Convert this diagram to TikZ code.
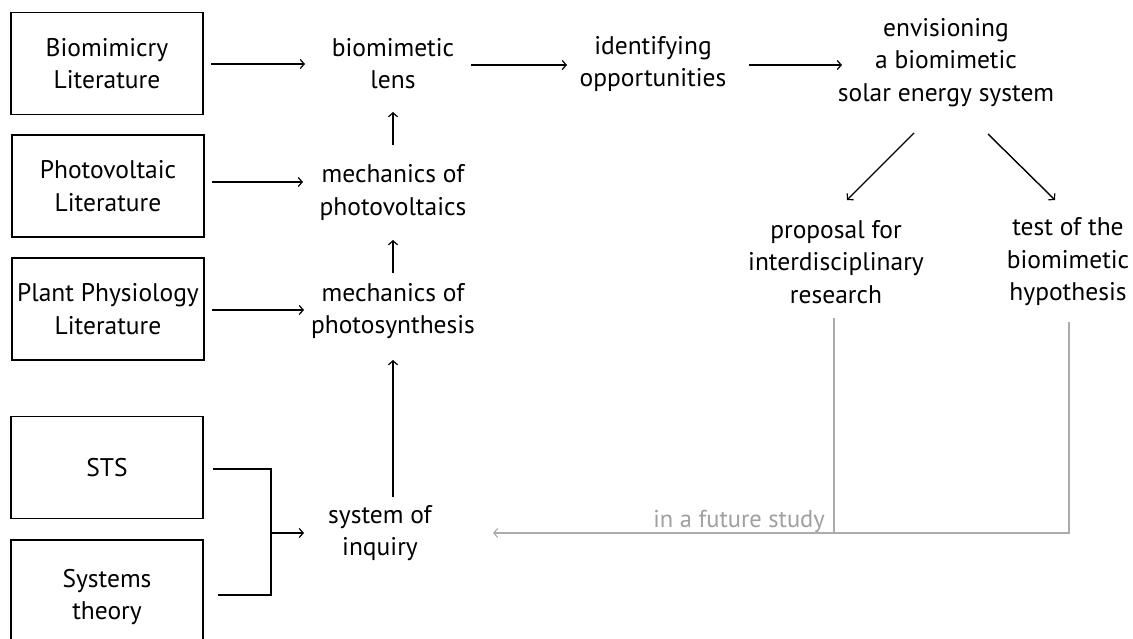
\documentclass[tikz,border=0pt]{standalone}
\usepackage{fontspec}
\setmainfont{PT Sans}
\usetikzlibrary{arrows.meta,calc}
\definecolor{futgray}{RGB}{172,172,172}
\definecolor{futtext}{RGB}{160,160,160}
\begin{document}
\begin{tikzpicture}[x=1pt,y=-1pt,
  every node/.style={font=\fontsize{25.5}{32.5}\selectfont, align=center, inner sep=0pt},
  src/.style={draw, line width=1.4pt, minimum width=192pt, minimum height=102pt},
  lab/.style={},
  link/.style={line width=1.4pt},
  arr/.style={link, -{Straight Barb[length=4pt,width=9pt,line width=1.2pt]}},
  later/.style={draw=futgray, line width=1.3pt},
  laterarr/.style={later, -{Straight Barb[length=4pt,width=9pt,line width=1.1pt]}}]
\clip (0,0) rectangle (1133,639);
\fill[white] (0,0) rectangle (1133,639);

% sources on the left
\node[src] (b1) at (107,63.5) {Biomimicry\\Literature};
\node[src] (b2) at (108,186) {Photovoltaic\\Literature};
\node[src] (b3) at (108,309) {Plant Physiology\\Literature};
\node[src] (sts) at (107,467.5) {STS};
\node[src, minimum height=114pt] (sys) at (107,597) {Systems\\theory};

% middle column
\node[lab] (lens) at (393,63.5) {biomimetic\\lens};
\node[lab] (mpv) at (393,192.5) {mechanics of\\photovoltaics};
\node[lab] (mps) at (393,311) {mechanics of\\photosynthesis};
\node[lab] (inq) at (380,533) {system of\\inquiry};

% upper right
\node[lab] (ident) at (653,64) {identifying\\opportunities};
\node[lab] (env) at (946,62.5) {envisioning\\a biomimetic\\solar energy system};
\node[lab] (prop) at (836,262) {proposal for\\interdisciplinary\\research};
\node[lab] (test) at (1068,262) {test of the\\biomimetic\\hypothesis};

% literature feeding the middle column
\draw[arr] ($(b1)+(104,0.5)$) -- ($(lens)+(-88,0.5)$);
\draw[arr] ($(b2)+(104,-4)$) -- ($(mpv)+(-90,-10.5)$);
\draw[arr] ($(b3)+(104,1)$) -- ($(mps)+(-89,-1)$);

% upward chain
\draw[arr] ($(mpv)+(0,-47.5)$) -- ($(lens)+(0,48.5)$);
\draw[arr] ($(mps)+(0,-38)$) -- ($(mpv)+(0,47.5)$);
\draw[arr] ($(inq)+(13,-36)$) -- ($(mps)+(0,49)$);

% bracket joining STS and systems theory
\coordinate (jn) at ($(inq)+(-109,0)$);
\draw[link] ($(sts)+(106,1.5)$) -| (jn) |- ($(sys)+(111,-2)$);
\draw[arr] (jn) -- ($(inq)+(-76,0)$);

% top row
\draw[arr] ($(lens)+(78,1.5)$) -- ($(ident)+(-86,1)$);
\draw[arr] ($(ident)+(96,1)$) -- ($(env)+(-104,2.5)$);

% branching
\draw[arr] ($(env)+(-32,70.5)$) -- ($(prop)+(11,-62)$);
\draw[arr] ($(env)+(42,71.5)$) -- ($(test)+(-13,-62)$);

% feedback in a future study
\draw[later] ($(prop)+(-2,56)$) -- ($(prop)+(-2,271)$);
\draw[laterarr] ($(test)+(1,60)$) |- ($(inq)+(113,0)$);
\node[anchor=base east, text=futtext, font=\fontsize{24.5}{28}\selectfont] (fut) at ($(prop)+(-11,265)$) {in a future study};
\end{tikzpicture}
\end{document}
